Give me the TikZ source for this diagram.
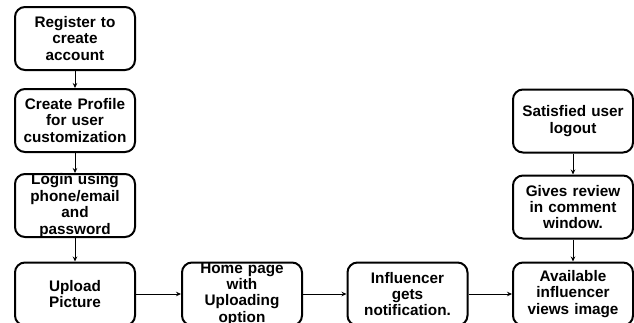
\documentclass[tikz,border=0pt]{standalone}
\usepackage{fontspec}
\setmainfont{Liberation Sans}
\usetikzlibrary{arrows.meta}

\begin{document}
\begin{tikzpicture}[x=1pt, y=-1pt,
  flowbox/.style={draw, line width=2pt, rounded corners=10pt, minimum width=120pt, minimum height=63pt, inner sep=0pt},
  flowtxt/.style={font=\bfseries\fontsize{15.3}{16.4}\selectfont, align=center, text width=118pt, inner sep=0pt},
  flowarr/.style={-{Stealth[length=5pt,width=4.5pt]}, line width=0.8pt}]
\useasboundingbox (0,0) rectangle (634,322);
\clip (0,0) rectangle (634,322);

%left column
\node[flowbox, label={[flowtxt]center:{Register to\\create\\account}}] (reg) at (75,38.5) {};
\node[flowbox, label={[flowtxt]center:{Create Profile\\for user\\customization}}] (prof) at (75,120.5) {};
\node[flowbox, label={[flowtxt]center:{Login using\\phone/email\\and\\password}}] (login) at (75,205.5) {};
%bottom row
\node[flowbox, label={[flowtxt]center:{Upload\\Picture}}] (upload) at (75,294) {};
\node[flowbox, label={[flowtxt]center:{Home page\\with\\Uploading\\option}}] (home) at (242,294) {};
\node[flowbox, label={[flowtxt]center:{Influencer\\gets\\notification.}}] (notif) at (407.5,294) {};
\node[flowbox, label={[flowtxt]center:{Available\\influencer\\views image}}] (views) at (573,294) {};
%right column
\node[flowbox, label={[flowtxt]center:{Gives review\\in comment\\window.}}] (review) at (573,207) {};
\node[flowbox, label={[flowtxt]center:{Satisfied user\\logout}}] (logout) at (573,121) {};

%connectors
\draw[flowarr] (reg) -- (prof);
\draw[flowarr] (prof) -- (login);
\draw[flowarr] (login) -- (upload);
\draw[flowarr] (upload) -- (home);
\draw[flowarr] (home) -- (notif);
\draw[flowarr] (notif) -- (views);
\draw[flowarr] (logout) -- (review);
\draw[flowarr] (review) -- (views);
\end{tikzpicture}
\end{document}
